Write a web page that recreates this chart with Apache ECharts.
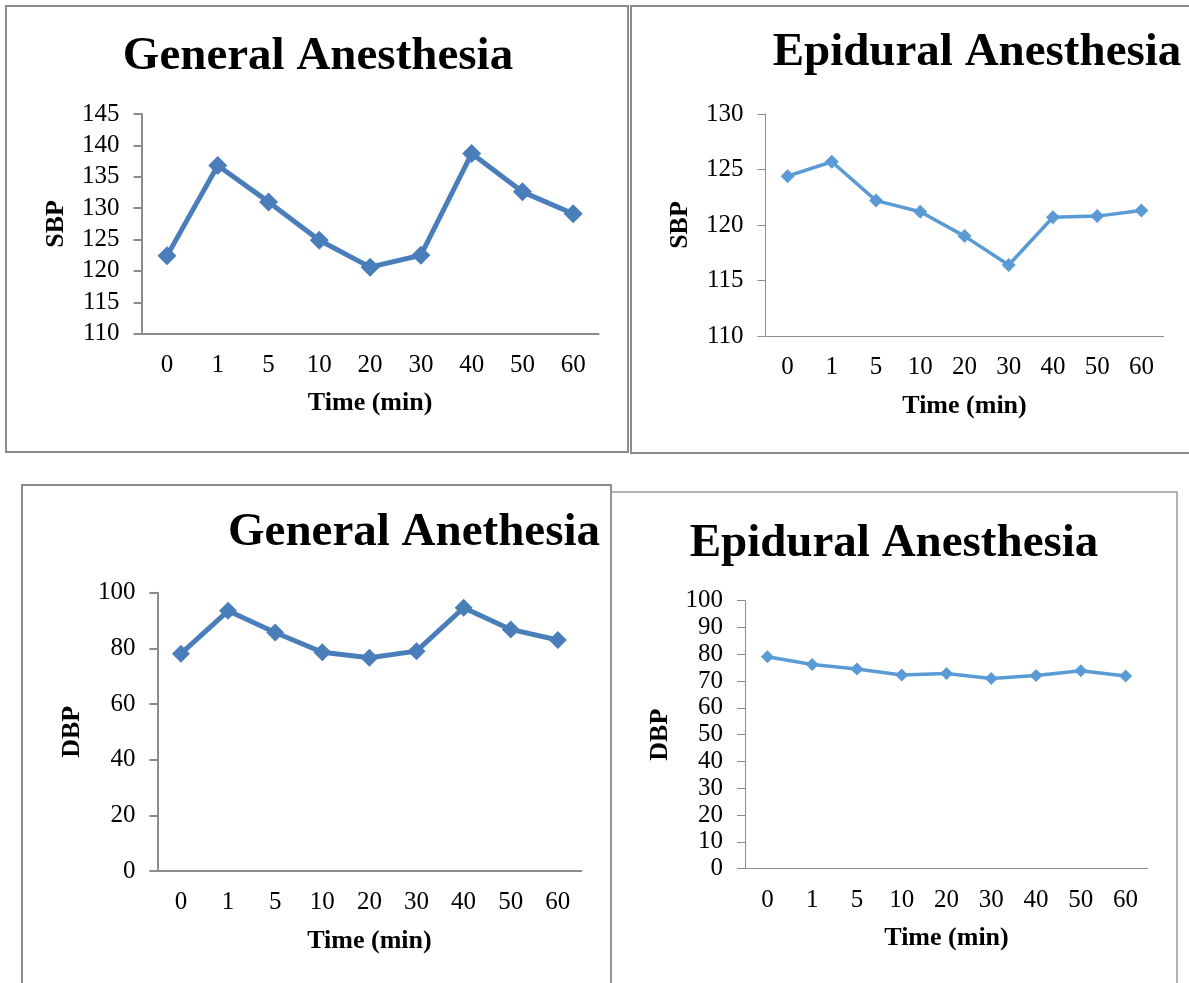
<!DOCTYPE html>
<html>
<head>
<meta charset="utf-8">
<script src="https://cdn.jsdelivr.net/npm/echarts@6/dist/echarts.min.js"></script>
<style>
html,body{margin:0;padding:0;background:#fff;}
#chart{width:1189px;height:983px;}
</style>
</head>
<body>
<div id="chart"></div>
<script>
// ---- data ----
const categories = ['0', '1', '5', '10', '20', '30', '40', '50', '60'];
const generalSBP = [122.4, 136.8, 131.0, 124.9, 120.6, 122.5, 138.7, 132.6, 129.1];
const epiduralSBP = [124.4, 125.7, 122.2, 121.2, 119.0, 116.4, 120.7, 120.8, 121.3];
const generalDBP = [78.1, 93.5, 85.7, 78.6, 76.6, 79.0, 94.6, 86.8, 83.0];
const epiduralDBP = [79.1, 76.2, 74.5, 72.3, 72.8, 71.0, 72.1, 73.9, 71.9];
const titles = ['General Anesthesia', 'Epidural Anesthesia', 'General Anethesia', 'Epidural Anesthesia'];
const yNames = ['SBP', 'SBP', 'DBP', 'DBP'];
const xName = 'Time (min)';

// ---- layout ----
const FONT = '"Liberation Serif", "Times New Roman", serif';
const darkBlue = '#4A7EBB';
const lightBlue = '#5B9BD5';
const grids = [
  {left: 141.6, top: 114, width: 457, height: 219.7},
  {left: 765.5, top: 114, width: 398, height: 222},
  {left: 157.4, top: 592.7, width: 424, height: 278.3},
  {left: 745, top: 600.7, width: 403, height: 268}
];
const yRanges = [
  {min: 110, max: 145, interval: 5},
  {min: 110, max: 130, interval: 5},
  {min: 0, max: 100, interval: 20},
  {min: 0, max: 100, interval: 10}
];
const seriesData = [generalSBP, epiduralSBP, generalDBP, epiduralDBP];
const styles = [
  {color: darkBlue, lw: 5, sym: 19, axisW: 2, axisC: '#8C8C8C'},
  {color: lightBlue, lw: 3.5, sym: 14, axisW: 1, axisC: '#8C8C8C'},
  {color: darkBlue, lw: 5, sym: 18, axisW: 2, axisC: '#8C8C8C'},
  {color: lightBlue, lw: 3.5, sym: 13, axisW: 1, axisC: '#8C8C8C'}
];
const titlePos = [
  {cx: 318, cy: 57},
  {cx: 977, cy: 53},
  {cx: 414, cy: 533},
  {cx: 894, cy: 544.5}
];

const chart = echarts.init(document.getElementById('chart'), null, {renderer: 'canvas'});

const option = {
  animation: false,
  backgroundColor: '#fff',
  title: titles.map((t, i) => ({
    text: t,
    left: titlePos[i].cx,
    top: titlePos[i].cy - 24,
    textAlign: 'center',
    padding: 0,
    textStyle: {fontFamily: FONT, fontWeight: 'bold', fontSize: 47, color: '#000'}
  })),
  graphic: [
    {type: 'rect', shape: {x: 6, y: 6, width: 622, height: 446}, style: {fill: 'none', stroke: '#8C8C8C', lineWidth: 2}, silent: true},
    {type: 'rect', shape: {x: 631, y: 6, width: 600, height: 447}, style: {fill: 'none', stroke: '#8C8C8C', lineWidth: 2}, silent: true},
    {type: 'rect', shape: {x: 22, y: 485, width: 589, height: 560}, style: {fill: 'none', stroke: '#8C8C8C', lineWidth: 2}, silent: true},
    {type: 'rect', shape: {x: 611, y: 492, width: 566, height: 560}, style: {fill: 'none', stroke: '#9A9A9A', lineWidth: 1.5}, silent: true}
  ],
  grid: grids.map(g => Object.assign({containLabel: false}, g)),
  xAxis: grids.map((g, i) => ({
    type: 'category',
    gridIndex: i,
    data: categories,
    boundaryGap: true,
    name: xName,
    nameLocation: 'middle',
    nameGap: 57,
    nameTextStyle: {fontFamily: FONT, fontWeight: 'bold', fontSize: 26, color: '#000'},
    axisLine: {lineStyle: {color: styles[i].axisC, width: styles[i].axisW}},
    axisTick: {show: false},
    axisLabel: {fontFamily: FONT, fontSize: 25, color: '#000', margin: 19, interval: 0},
    splitLine: {show: false}
  })),
  yAxis: grids.map((g, i) => ({
    type: 'value',
    gridIndex: i,
    min: yRanges[i].min,
    max: yRanges[i].max,
    interval: yRanges[i].interval,
    name: yNames[i],
    nameLocation: 'middle',
    nameGap: 72,
    nameTextStyle: {fontFamily: FONT, fontWeight: 'bold', fontSize: 26, color: '#000'},
    axisLine: {show: true, lineStyle: {color: styles[i].axisC, width: styles[i].axisW}},
    axisTick: {show: true, length: 8, lineStyle: {color: styles[i].axisC, width: styles[i].axisW}},
    axisLabel: {fontFamily: FONT, fontSize: 25, color: '#000', margin: 22},
    splitLine: {show: false}
  })),
  series: seriesData.map((d, i) => ({
    type: 'line',
    xAxisIndex: i,
    yAxisIndex: i,
    data: d,
    symbol: 'diamond',
    symbolSize: styles[i].sym,
    showAllSymbol: true,
    lineStyle: {color: styles[i].color, width: styles[i].lw},
    itemStyle: {color: styles[i].color, borderWidth: 0}
  }))
};
chart.setOption(option);
</script>
</body>
</html>
